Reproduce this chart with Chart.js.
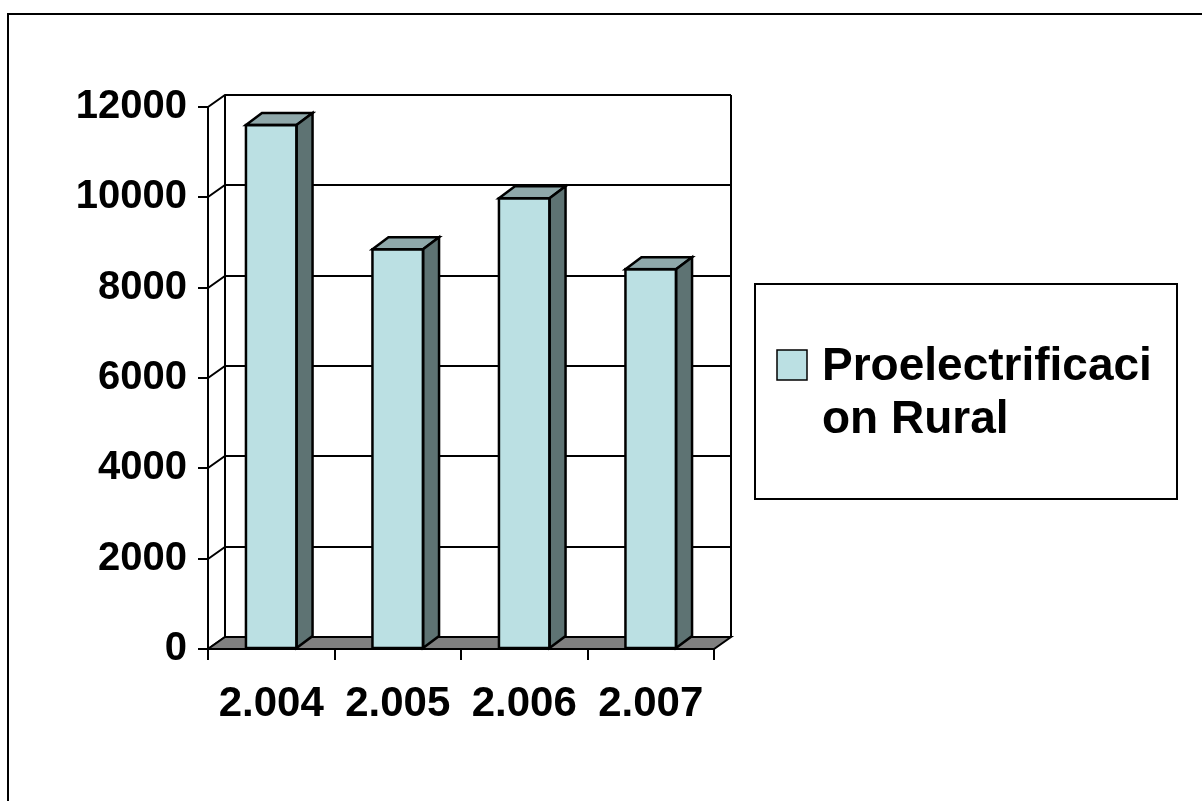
<!DOCTYPE html>
<html>
<head>
<meta charset="utf-8">
<title>Proelectrificacion Rural</title>
<script src="https://cdn.jsdelivr.net/npm/chart.js@4/dist/chart.umd.min.js"></script>
<style>
  html, body { margin: 0; padding: 0; background: #ffffff; }
  #wrap { position: relative; width: 1202px; height: 801px; }
</style>
</head>
<body>
<div id="wrap"><canvas id="chart"></canvas></div>
<script>
// Data
const years = ['2.004', '2.005', '2.006', '2.007'];
const values = [11600, 8850, 9980, 8410];
const yTicks = [0, 2000, 4000, 6000, 8000, 10000, 12000];
const legendLines = ['Proelectrificaci', 'on Rural'];

const FONT = "'Liberation Sans', Arial, Helvetica, sans-serif";
const FRONT = '#BBE0E3';
const TOP = '#8FA8AA';
const SIDE = '#5E7373';
const FLOOR = '#808080';

// depth of the back wall and of each column
const WALL_DX = 17, WALL_DY = 12;
const BAR_DX = 16, BAR_DY = 12;

const threeD = {
  id: 'threeD',
  beforeDatasetsDraw(chart) {
    const ctx = chart.ctx;
    const { left, right, bottom } = chart.chartArea;
    const y = chart.scales.y;
    const top = Math.round(y.getPixelForValue(yTicks[yTicks.length - 1]));
    ctx.save();
    ctx.strokeStyle = '#000';
    ctx.lineWidth = 2;
    ctx.lineJoin = 'miter';
    // back wall gridlines and side wall diagonals
    yTicks.forEach(v => {
      const py = Math.round(y.getPixelForValue(v));
      ctx.beginPath();
      ctx.moveTo(left, py);
      ctx.lineTo(left + WALL_DX, py - WALL_DY);
      if (v !== 0) ctx.lineTo(right + WALL_DX, py - WALL_DY);
      ctx.stroke();
    });
    // back wall verticals
    ctx.beginPath();
    ctx.moveTo(left + WALL_DX, top - WALL_DY);
    ctx.lineTo(left + WALL_DX, bottom - WALL_DY);
    ctx.moveTo(right + WALL_DX, top - WALL_DY);
    ctx.lineTo(right + WALL_DX, bottom - WALL_DY);
    ctx.stroke();
    // floor
    ctx.beginPath();
    ctx.moveTo(left, bottom);
    ctx.lineTo(right, bottom);
    ctx.lineTo(right + WALL_DX, bottom - WALL_DY);
    ctx.lineTo(left + WALL_DX, bottom - WALL_DY);
    ctx.closePath();
    ctx.fillStyle = FLOOR;
    ctx.fill();
    ctx.stroke();
    ctx.restore();
  },
  afterDatasetsDraw(chart) {
    const ctx = chart.ctx;
    const meta = chart.getDatasetMeta(0);
    ctx.save();
    ctx.strokeStyle = '#000';
    ctx.lineWidth = 2.5;
    ctx.lineJoin = 'miter';
    meta.data.forEach(bar => {
      const p = bar.getProps(['x', 'y', 'base', 'width'], true);
      const l = p.x - p.width / 2, r = p.x + p.width / 2;
      const t = p.y, b = p.base;
      // top face
      ctx.beginPath();
      ctx.moveTo(l, t);
      ctx.lineTo(l + BAR_DX, t - BAR_DY);
      ctx.lineTo(r + BAR_DX, t - BAR_DY);
      ctx.lineTo(r, t);
      ctx.closePath();
      ctx.fillStyle = TOP;
      ctx.fill();
      ctx.stroke();
      // side face
      ctx.beginPath();
      ctx.moveTo(r, t);
      ctx.lineTo(r + BAR_DX, t - BAR_DY);
      ctx.lineTo(r + BAR_DX, b - BAR_DY);
      ctx.lineTo(r, b);
      ctx.closePath();
      ctx.fillStyle = SIDE;
      ctx.fill();
      ctx.stroke();
      // front face outline
      ctx.strokeRect(l, t, r - l, b - t);
    });
    ctx.restore();
  },
  afterDraw(chart) {
    const ctx = chart.ctx;
    ctx.save();
    // outer frame (left and top edges)
    ctx.fillStyle = '#000';
    ctx.fillRect(7, 13, 2, chart.height - 13);
    ctx.fillRect(7, 13, chart.width - 7, 2);
    // legend box
    ctx.strokeStyle = '#000';
    ctx.lineWidth = 2;
    ctx.strokeRect(755, 284, 422, 215);
    // legend swatch
    ctx.fillStyle = FRONT;
    ctx.fillRect(777, 350, 30, 30);
    ctx.lineWidth = 1.5;
    ctx.strokeRect(777, 350, 30, 30);
    // legend text
    ctx.fillStyle = '#000';
    ctx.font = 'bold 46px ' + FONT;
    ctx.textAlign = 'left';
    ctx.textBaseline = 'alphabetic';
    legendLines.forEach((line, i) => ctx.fillText(line, 822, 380 + i * 53));
    ctx.restore();
  }
};

new Chart(document.getElementById('chart'), {
  type: 'bar',
  data: {
    labels: years,
    datasets: [{
      label: legendLines.join(''),
      data: values,
      backgroundColor: FRONT,
      borderWidth: 0,
      barPercentage: 0.4,
      categoryPercentage: 1.0
    }]
  },
  options: {
    responsive: true,
    maintainAspectRatio: false,
    animation: false,
    devicePixelRatio: 1,
    layout: { padding: { left: 0, top: 107, right: 488, bottom: 0 } },
    plugins: {
      legend: { display: false },
      tooltip: { enabled: false },
      title: { display: false }
    },
    scales: {
      x: {
        offset: true,
        afterFit(scale) { scale.height = 152; },
        grid: {
          offset: true,
          drawOnChartArea: false,
          drawTicks: true,
          tickLength: 11,
          color: '#000',
          lineWidth: 2
        },
        border: { display: true, color: '#000', width: 2 },
        ticks: {
          color: '#000',
          padding: 19,
          maxRotation: 0,
          font: { family: FONT, weight: 'bold', size: 42 }
        }
      },
      y: {
        min: 0,
        max: 12000,
        afterFit(scale) { scale.width = 208; },
        afterBuildTicks(scale) { scale.ticks = yTicks.map(v => ({ value: v })); },
        grid: {
          drawOnChartArea: false,
          drawTicks: true,
          tickLength: 10,
          color: '#000',
          lineWidth: 2
        },
        border: { display: true, color: '#000', width: 2 },
        ticks: {
          color: '#000',
          padding: 11,
          callback: v => String(v),
          font: { family: FONT, weight: 'bold', size: 40 }
        }
      }
    }
  },
  plugins: [threeD]
});
</script>
</body>
</html>
